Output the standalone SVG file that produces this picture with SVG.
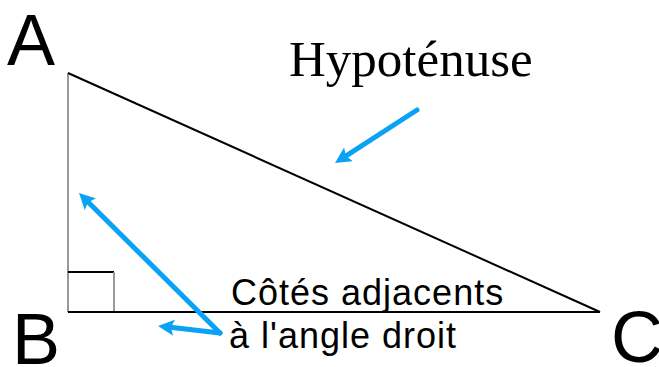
<svg xmlns="http://www.w3.org/2000/svg" width="659" height="367" viewBox="0 0 659 367">
<style>
.vert{font-family:"Liberation Sans",Arial,sans-serif;font-size:72px;fill:#000}
.lbl{font-family:"Liberation Sans",Arial,sans-serif;font-size:36px;letter-spacing:1px;fill:#000}
.hyp{font-family:"Liberation Serif","Times New Roman",serif;font-size:51px;fill:#000}
.blk{stroke:#000;stroke-width:2;fill:none}
.gry{stroke:#999;stroke-width:2;fill:none}
.arr{stroke:#0aa2f4;stroke-width:5;fill:none;stroke-linecap:round;marker-end:url(#ah)}
</style>
<defs>
<marker id="ah" markerUnits="userSpaceOnUse" markerWidth="20" markerHeight="20" refX="6" refY="8" orient="auto" viewBox="0 0 20 20">
<path d="M0,0 L16,8 L0,16 L3,8 z" fill="#0aa2f4"/>
</marker>
</defs>
<g id="triangle">
<line class="gry" x1="68" y1="73" x2="68" y2="312"/>
<line class="blk" x1="68" y1="312" x2="600" y2="312"/>
<line class="blk" x1="68" y1="73" x2="600" y2="312"/>
<path class="blk" d="M68,272 H114"/>
<path class="gry" d="M114,272 V311"/>
</g>
<g id="A"><text class="vert" x="7" y="65">A</text></g>
<g id="B"><text class="vert" x="12" y="364">B</text></g>
<g id="C"><text class="vert" x="611" y="362">C</text></g>
<g id="hypotenuse"><text class="hyp" x="289" y="76">Hypoténuse</text></g>
<g id="cotes"><text class="lbl" x="231" y="305">Côtés adjacents</text><text class="lbl" x="229" y="348">à l'angle droit</text></g>
<g id="connectors">
<line class="arr" x1="417" y1="110" x2="343.4" y2="157.6"/>
<line class="arr" x1="220" y1="333" x2="86.1" y2="200"/>
<line class="arr" x1="220" y1="333" x2="168" y2="327.1"/>
</g>
</svg>
